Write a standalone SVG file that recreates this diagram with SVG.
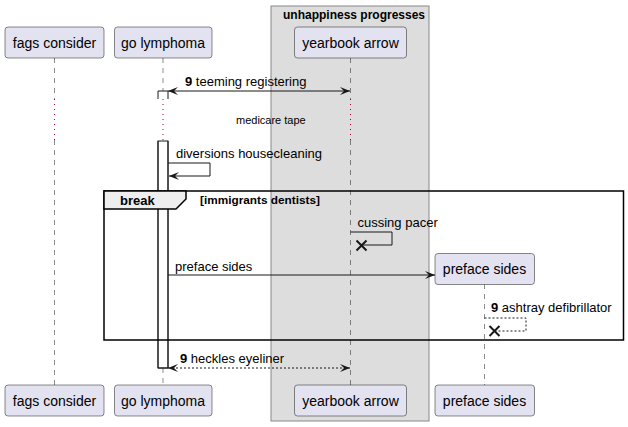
<svg xmlns="http://www.w3.org/2000/svg" width="628" height="427" viewBox="0 0 628 427">
<style>
text{font-family:"Liberation Sans",Arial,sans-serif;fill:#000}
.pbox{fill:#E2E2F0;stroke:#181818;stroke-width:0.5}
.pt{font-size:14px;text-anchor:middle}
.life{stroke:#181818;stroke-width:0.5;stroke-dasharray:5,5;fill:none}
.delay{stroke:#A80036;stroke-width:1;stroke-dasharray:1,4;fill:none}
.msg{stroke:#181818;stroke-width:1;fill:none}
.dash{stroke-dasharray:2,2}
.mt{font-size:13px}
.b{font-weight:bold}
.kill{stroke:#181818;stroke-width:2}
.bar{fill:#FFFFFF;stroke:#181818;stroke-width:1}
</style>
<defs>
<marker id="ah" viewBox="0 0 10 8" refX="10" refY="4" markerWidth="10" markerHeight="8" orient="auto-start-reverse" markerUnits="userSpaceOnUse">
<path d="M0,0 L10,4 L0,8 L4,4 Z" fill="#181818"/>
</marker>
</defs>

<g id="box-unhappiness">
<rect x="271" y="6" width="158" height="415" fill="#DDDDDD" stroke="#888888" stroke-width="1"/>
<text x="354" y="19" class="b" font-size="12" text-anchor="middle">unhappiness progresses</text>
</g>

<g id="lifelines">
<path class="life" d="M54.5,58 V99 M54.5,140 V385"/>
<path class="delay" d="M54.5,99 V140"/>
<path class="life" d="M163,58 V91 M163,368 V385"/>
<path class="delay" d="M163,99 V140"/>
<path class="life" d="M350.5,58 V99 M350.5,140 V385"/>
<path class="delay" d="M350.5,99 V140"/>
<path class="life" d="M484.5,284 V385"/>
</g>

<g id="activation">
<path class="bar" d="M158,99 V91 H168 V99"/>
<rect class="bar" x="158" y="141" width="10" height="227" stroke="none"/>
<path class="msg" d="M158,141 V368 H168 V141"/>
</g>

<text x="236" y="124" font-size="11">medicare tape</text>

<g id="connectors">
<line class="msg" x1="168" y1="91" x2="350" y2="91" marker-start="url(#ah)" marker-end="url(#ah)"/>
<text x="185" y="86" class="mt"><tspan class="b">9</tspan> teeming registering</text>

<path class="msg" d="M168,163 H210 V176 H169" marker-end="url(#ah)"/>
<text x="176" y="158" class="mt">diversions housecleaning</text>

<path class="msg" d="M350.5,232 H392 V245 H362"/>
<path class="kill" d="M356.5,240.5 L366.5,250.5 M366.5,240.5 L356.5,250.5"/>
<text x="357.5" y="227" class="mt">cussing pacer</text>

<line class="msg" x1="168" y1="275" x2="435" y2="275" marker-end="url(#ah)"/>
<text x="175" y="271" class="mt">preface sides</text>

<path class="msg dash" d="M484.5,318 H526 V331 H495"/>
<path class="kill" d="M489.5,326 L499.5,336 M499.5,326 L489.5,336"/>
<text x="491" y="312" class="mt"><tspan class="b">9</tspan> ashtray defibrillator</text>

<line class="msg dash" x1="168" y1="368" x2="350" y2="368" marker-start="url(#ah)" marker-end="url(#ah)"/>
<text x="180" y="363" class="mt"><tspan class="b">9</tspan> heckles eyeliner</text>
</g>

<g id="fragment-break">
<rect x="104" y="191" width="519.5" height="149" fill="none" stroke="#000" stroke-width="1.5"/>
<path d="M104,191 H186 V199 L176,209 H104 Z" fill="#EEEEEE" stroke="#000" stroke-width="1.5"/>
<text x="120" y="205" class="b" font-size="13">break</text>
<text x="200" y="204" class="b" font-size="11.8">[immigrants dentists]</text>
</g>

<g id="p-fags-top"><rect class="pbox" x="5" y="27" width="99" height="31" rx="3"/><text class="pt" x="54.5" y="47.5">fags consider</text></g>
<g id="p-go-top"><rect class="pbox" x="114.5" y="27" width="97.5" height="31" rx="3"/><text class="pt" x="163" y="47.5">go lymphoma</text></g>
<g id="p-yearbook-top"><rect class="pbox" x="294.5" y="27" width="112" height="31" rx="3"/><text class="pt" x="350.5" y="47.5">yearbook arrow</text></g>
<g id="p-preface-top"><rect class="pbox" x="435" y="253.5" width="99.5" height="31" rx="3"/><text class="pt" x="484.5" y="274">preface sides</text></g>

<g id="p-fags-bottom"><rect class="pbox" x="5" y="385" width="99" height="31" rx="3"/><text class="pt" x="54.5" y="405.5">fags consider</text></g>
<g id="p-go-bottom"><rect class="pbox" x="114.5" y="385" width="97.5" height="31" rx="3"/><text class="pt" x="163" y="405.5">go lymphoma</text></g>
<g id="p-yearbook-bottom"><rect class="pbox" x="294.5" y="385" width="112" height="31" rx="3"/><text class="pt" x="350.5" y="405.5">yearbook arrow</text></g>
<g id="p-preface-bottom"><rect class="pbox" x="435" y="385" width="99.5" height="31" rx="3"/><text class="pt" x="484.5" y="405.5">preface sides</text></g>
</svg>
